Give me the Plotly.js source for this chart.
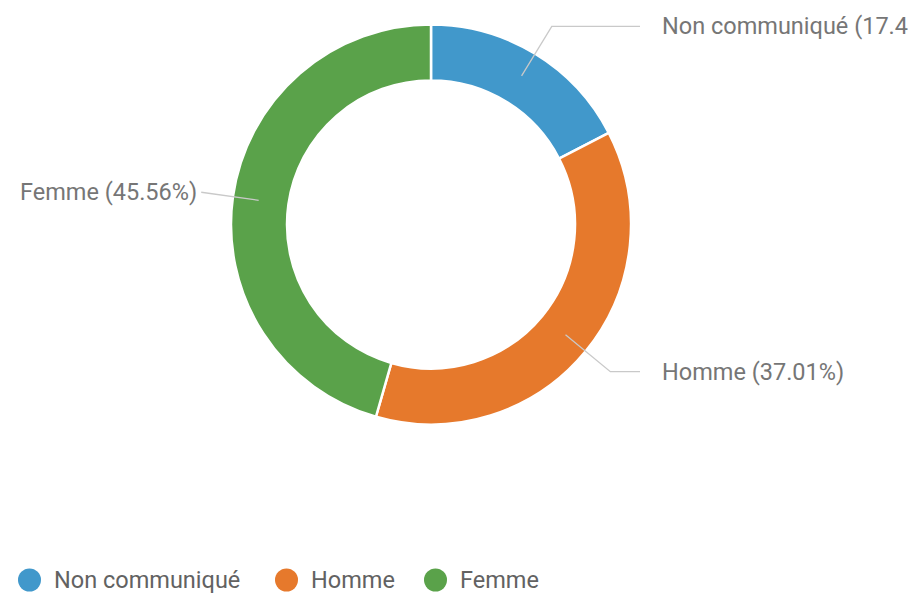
<!DOCTYPE html>
<html><head><meta charset="utf-8">
<script src="https://cdn.plot.ly/plotly-3.0.1.min.js"></script>
<style>html,body{margin:0;padding:0;background:#fff;overflow:hidden}#chart{width:908px;height:593px}</style>
</head><body><div id="chart"></div><script>
// ---- data ----
const categories = ['Non communiqué', 'Homme', 'Femme'];
const percentages = [17.43, 37.01, 45.56];
const sliceColors = ['#4198cb', '#e6792c', '#5aa24a'];

// ---- layout / style ----
const W = 908, H = 593;
const CX = 431, CY = 224.5, R = 200, HOLE = 0.72;
const FONT = 'Roboto, Arial, sans-serif';
const LABEL_SIZE = 23.5, LABEL_COLOR = '#767676', LINE_COLOR = '#c9c9c9';
const LEGEND_Y = 580, LEGEND_DOT_D = 23, LEGEND_ITEM_X = [18, 275, 424], LEGEND_TEXT_GAP = 34;
const px = p => p / W, py = p => 1 - p / H;

const total = percentages.reduce((a, b) => a + b, 0);
const annotations = [], shapes = [];
let cum = 0;
percentages.forEach((v, i) => {
  const mid = (cum + v / 2) / total * 2 * Math.PI; cum += v;
  const s = Math.sin(mid), c = Math.cos(mid);
  const r0 = R * 0.87, r1 = R * 1.16;
  const x0 = CX + r0 * s, y0 = CY - r0 * c, x1 = CX + r1 * s, y1 = CY - r1 * c;
  const right = s >= 0;
  const x2 = right ? Math.max(x1, CX + R * 1.045) : Math.min(x1, CX - R * 1.14);
  shapes.push({type: 'path', xref: 'paper', yref: 'paper',
    path: `M${px(x0)},${py(y0)} L${px(x1)},${py(y1)} L${px(x2)},${py(y1)}`,
    line: {color: LINE_COLOR, width: 1.3}});
  annotations.push({xref: 'paper', yref: 'paper', showarrow: false,
    x: px(right ? CX + R * 1.145 : CX - R * 1.16), y: py(y1),
    xanchor: right ? 'left' : 'right', yanchor: 'middle',
    text: `${categories[i]} (${v.toFixed(2)}%)`,
    font: {family: FONT, size: LABEL_SIZE, color: LABEL_COLOR}});
});

// manual legend with round markers
categories.forEach((cat, i) => {
  const x = LEGEND_ITEM_X[i];
  shapes.push({type: 'circle', xref: 'paper', yref: 'paper',
    x0: px(x), x1: px(x + LEGEND_DOT_D), y0: py(LEGEND_Y + LEGEND_DOT_D / 2), y1: py(LEGEND_Y - LEGEND_DOT_D / 2),
    fillcolor: sliceColors[i], line: {width: 0}});
  annotations.push({xref: 'paper', yref: 'paper', showarrow: false,
    x: px(x + LEGEND_TEXT_GAP), y: py(LEGEND_Y), xanchor: 'left', yanchor: 'middle',
    text: cat, font: {family: FONT, size: LABEL_SIZE, color: '#626262'}});
});

const trace = {
  type: 'pie', labels: categories, values: percentages,
  hole: HOLE, sort: false, direction: 'clockwise', rotation: 0,
  textinfo: 'none', hoverinfo: 'label+percent',
  marker: {colors: sliceColors, line: {color: '#ffffff', width: 2.5}},
  domain: {x: [px(CX - R), px(CX + R)], y: [py(CY + R), py(CY - R)]}
};

Plotly.newPlot('chart', [trace], {
  width: W, height: H, margin: {l: 0, r: 0, t: 0, b: 0},
  paper_bgcolor: '#ffffff', plot_bgcolor: '#ffffff',
  showlegend: false, font: {family: FONT},
  annotations: annotations, shapes: shapes
}, {displayModeBar: false, staticPlot: true});
</script></body></html>
